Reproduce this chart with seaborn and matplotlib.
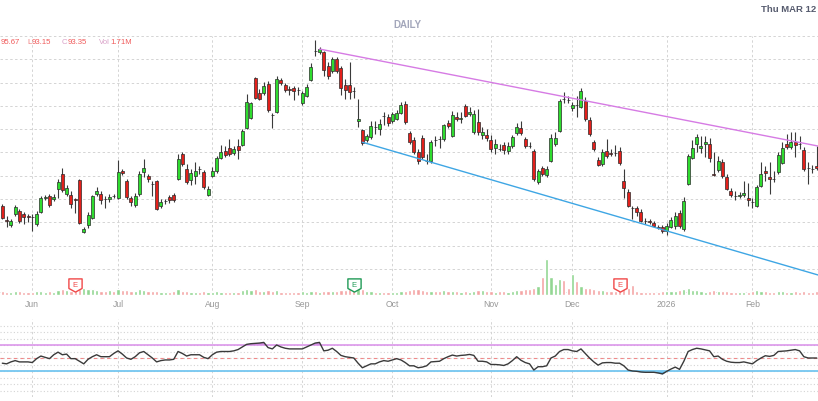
import numpy as np
import matplotlib
matplotlib.use("Agg")
import matplotlib.pyplot as plt
import matplotlib.transforms as mtransforms
from matplotlib.path import Path
import seaborn as sns

# daily candles (price units)
opens = [
    89.26, 87.76, 87.22, 88.40, 88.72, 88.40, 88.19, 88.08, 87.33, 88.61,
    90.12, 90.33, 90.01, 91.08, 92.70, 90.55, 90.44, 90.01, 92.05, 86.47,
    87.22, 87.97, 90.55, 90.55, 90.01, 90.01, 90.33, 90.12, 93.02, 91.94,
    90.12, 89.37, 90.55, 92.91, 92.48, 91.62, 91.94, 89.26, 89.80, 90.23,
    90.44, 92.16, 94.84, 93.23, 92.05, 92.48, 93.23, 92.91, 90.44, 92.48,
    93.02, 94.41, 95.16, 95.48, 94.95, 95.70, 95.80, 97.63, 98.70, 102.99,
    101.38, 101.38, 102.35, 99.05, 99.37, 102.78, 102.24, 101.81, 101.92, 101.71,
    100.31, 101.06, 102.78, 105.89, 105.78, 105.78, 104.28, 103.74, 105.03, 104.07,
    102.24, 102.24, 101.60, 98.38, 97.41, 96.34, 96.66, 97.74, 97.52, 98.92,
    98.81, 98.38, 98.59, 99.24, 100.20, 97.09, 96.34, 95.05, 96.56, 94.09,
    94.09, 96.34, 96.45, 96.45, 98.17, 96.77, 98.81, 98.59, 99.99, 99.13,
    97.20, 98.27, 96.88, 96.88, 96.34, 95.48, 95.37, 95.80, 95.16, 95.70,
    97.09, 97.63, 96.45, 95.70, 95.16, 91.84, 93.34, 92.59, 94.09, 95.91,
    97.31, 100.74, 100.63, 99.77, 100.10, 99.88, 100.53, 98.49, 96.13, 94.20,
    93.77, 95.16, 94.95, 94.95, 95.16, 91.94, 90.76, 89.04, 89.04, 88.61,
    87.65, 87.65, 87.43, 87.01, 87.01, 86.58, 87.01, 87.11, 88.51, 86.79,
    91.62, 94.41, 95.91, 95.48, 95.91, 95.91, 92.70, 93.12, 93.98, 92.37,
    90.87, 90.33, 90.33, 90.44, 90.12, 89.69, 89.26, 91.41, 93.02, 92.37,
    92.16, 92.91, 93.87, 95.91, 95.59, 96.13, 95.91, 95.27, 93.34, 93.23,
    93.50,
]
highs = [
    89.47, 88.19, 87.86, 89.37, 88.94, 88.61, 88.40, 88.40, 88.72, 90.33,
    90.44, 90.55, 90.55, 92.16, 93.34, 91.52, 90.87, 90.12, 92.16, 87.01,
    88.61, 90.44, 91.30, 90.87, 90.33, 90.55, 90.55, 94.19, 93.23, 92.16,
    90.33, 90.66, 93.02, 94.30, 92.70, 91.94, 92.05, 90.01, 90.01, 90.44,
    90.66, 94.84, 95.05, 93.77, 93.23, 93.98, 93.55, 93.12, 91.41, 93.45,
    94.63, 95.80, 95.70, 96.45, 95.70, 96.45, 97.52, 101.28, 100.42, 103.10,
    101.81, 102.56, 102.67, 99.26, 103.21, 102.99, 102.46, 102.13, 102.13, 102.03,
    101.60, 102.35, 104.60, 107.07, 106.32, 105.89, 104.71, 105.25, 105.25, 104.28,
    102.89, 104.71, 102.03, 100.74, 97.52, 96.98, 98.38, 98.38, 98.59, 99.34,
    99.13, 99.34, 99.55, 100.42, 100.53, 97.31, 96.66, 95.37, 96.88, 94.84,
    96.34, 96.77, 96.77, 98.06, 98.49, 99.45, 99.34, 99.34, 100.20, 99.88,
    99.55, 99.67, 97.74, 97.52, 96.88, 96.45, 95.91, 96.13, 96.13, 96.88,
    98.17, 98.38, 96.66, 96.13, 95.37, 93.23, 93.55, 93.55, 96.98, 97.20,
    100.74, 101.49, 101.06, 100.42, 101.06, 101.92, 100.96, 98.81, 96.34, 94.52,
    95.37, 96.45, 95.37, 95.80, 95.59, 93.23, 91.08, 89.26, 89.26, 88.94,
    87.97, 87.86, 87.65, 87.22, 87.22, 87.43, 88.08, 88.61, 88.83, 90.23,
    94.84, 96.34, 96.98, 96.77, 96.77, 96.56, 95.05, 94.63, 94.30, 92.70,
    91.19, 90.87, 90.76, 91.94, 91.73, 90.12, 91.52, 93.98, 93.55, 93.98,
    93.02, 95.05, 96.13, 96.98, 97.20, 97.20, 96.77, 95.59, 93.98, 93.66,
    95.67,
]
lows = [
    87.86, 87.01, 87.01, 88.19, 87.43, 87.33, 87.54, 86.57, 87.11, 88.51,
    89.90, 89.15, 89.80, 90.12, 90.76, 90.33, 89.04, 88.51, 87.33, 86.36,
    86.90, 87.86, 90.33, 89.47, 89.04, 89.69, 90.12, 90.01, 92.59, 90.01,
    89.26, 89.15, 90.33, 92.37, 91.84, 90.33, 88.83, 89.04, 89.47, 89.58,
    89.69, 92.05, 93.55, 91.62, 91.52, 91.62, 92.70, 91.08, 90.33, 92.37,
    92.80, 94.30, 94.52, 94.63, 94.73, 94.30, 95.70, 97.52, 98.59, 100.74,
    100.63, 101.17, 99.37, 97.66, 99.26, 102.24, 101.49, 101.17, 100.63, 101.17,
    100.10, 100.96, 102.67, 105.35, 105.57, 103.21, 102.89, 103.53, 103.53, 101.17,
    100.74, 100.74, 100.85, 97.74, 95.80, 96.13, 96.45, 96.98, 96.88, 97.95,
    97.84, 98.17, 98.49, 99.13, 98.06, 95.91, 94.84, 93.77, 94.30, 93.77,
    93.87, 95.70, 95.48, 96.23, 97.63, 96.66, 98.38, 98.17, 98.81, 98.92,
    96.98, 96.88, 96.45, 96.23, 95.05, 94.84, 95.16, 94.84, 94.84, 95.48,
    96.88, 96.88, 95.48, 95.48, 91.94, 91.62, 92.48, 92.37, 93.98, 95.70,
    97.20, 100.31, 100.31, 99.45, 98.81, 99.77, 98.38, 96.77, 95.16, 93.55,
    93.55, 94.41, 94.63, 94.63, 93.66, 90.12, 89.15, 87.86, 88.19, 87.54,
    87.33, 87.33, 87.01, 86.79, 86.36, 86.15, 86.90, 86.79, 86.90, 86.57,
    91.52, 94.30, 95.05, 94.95, 94.52, 93.98, 92.48, 92.91, 92.27, 90.98,
    90.23, 89.90, 90.12, 90.23, 89.26, 89.04, 89.15, 91.30, 91.94, 90.55,
    91.84, 92.70, 93.77, 95.37, 95.37, 94.52, 95.37, 93.02, 91.62, 92.80,
    93.15,
]
closes = [
    87.97, 87.65, 87.65, 89.15, 87.65, 88.08, 88.08, 88.05, 88.40, 90.12,
    90.23, 89.37, 90.23, 91.84, 90.98, 91.19, 89.47, 89.90, 87.43, 86.79,
    88.29, 90.33, 90.87, 89.90, 89.96, 90.23, 90.30, 92.91, 92.80, 90.23,
    89.69, 90.33, 92.70, 93.34, 92.16, 91.58, 88.94, 89.69, 89.83, 89.90,
    89.90, 94.30, 93.77, 91.84, 92.80, 93.02, 93.20, 91.30, 91.08, 93.02,
    94.41, 95.05, 94.73, 94.84, 95.37, 95.27, 97.31, 100.42, 100.31, 100.85,
    100.74, 102.13, 99.59, 99.02, 102.89, 102.46, 101.71, 101.71, 101.60, 101.68,
    101.38, 102.03, 104.17, 105.86, 106.10, 103.85, 103.21, 105.03, 103.74, 101.92,
    101.71, 101.49, 101.57, 98.59, 96.02, 96.77, 97.84, 97.71, 98.06, 98.89,
    98.17, 99.13, 99.24, 100.10, 98.27, 96.13, 95.05, 94.09, 94.52, 94.06,
    96.13, 96.31, 96.42, 97.95, 97.84, 99.02, 98.59, 98.70, 98.92, 99.34,
    99.13, 97.20, 97.20, 96.56, 95.37, 95.91, 95.34, 95.27, 95.70, 96.66,
    97.74, 97.09, 95.70, 95.67, 92.16, 93.02, 92.70, 93.23, 96.56, 96.56,
    100.53, 100.71, 100.60, 100.10, 100.07, 101.60, 98.59, 96.98, 95.37, 93.66,
    95.05, 94.63, 94.84, 94.92, 93.87, 91.19, 89.26, 89.01, 88.61, 87.65,
    87.62, 87.54, 87.11, 86.90, 86.58, 87.11, 87.76, 88.19, 87.11, 89.80,
    94.63, 95.48, 96.66, 95.70, 96.13, 94.41, 92.59, 94.09, 92.48, 91.08,
    90.44, 90.30, 90.44, 90.66, 89.90, 89.66, 91.30, 92.70, 92.80, 92.16,
    92.13, 94.73, 95.48, 95.59, 96.13, 95.80, 95.88, 93.23, 93.31, 93.20,
    93.35,
]
# volume in millions
volumes = [
    1.8, 1.3, 1.4, 1.9, 1.8, 1.3, 1.4, 1.3, 1.8, 1.9,
    1.4, 1.8, 1.3, 2.3, 2.7, 2.3, 1.8, 1.9, 2.7, 3.1,
    2.7, 2.7, 2.3, 1.9, 1.8, 2.3, 1.9, 2.7, 2.3, 2.3,
    1.8, 1.9, 2.7, 2.3, 1.8, 1.9, 1.8, 1.3, 1.4, 1.3,
    1.8, 2.7, 1.9, 1.8, 1.3, 1.4, 1.3, 1.8, 1.4, 1.3,
    1.9, 1.4, 1.3, 1.4, 1.3, 1.4, 2.3, 2.7, 2.3, 2.7,
    1.9, 1.8, 2.3, 1.9, 2.3, 1.3, 1.4, 1.3, 1.4, 1.3,
    1.8, 1.4, 1.9, 1.8, 1.3, 1.9, 1.8, 1.9, 1.8, 2.3,
    2.3, 2.7, 2.3, 3.1, 2.7, 1.9, 1.8, 1.3, 1.4, 1.3,
    1.4, 1.3, 1.4, 1.8, 1.9, 2.3, 2.7, 2.7, 2.3, 1.9,
    1.8, 1.9, 1.8, 2.3, 1.9, 1.8, 1.9, 1.3, 1.8, 1.4,
    1.9, 2.3, 2.3, 1.9, 1.8, 1.3, 1.9, 1.8, 1.4, 1.9,
    2.3, 2.3, 2.7, 2.7, 3.1, 4.1, 8.1, 15.8, 8.1, 5.0,
    7.2, 6.8, 3.1, 9.4, 6.3, 4.1, 3.1, 3.1, 2.7, 2.3,
    2.3, 1.9, 1.8, 1.9, 2.3, 2.7, 3.1, 4.5, 1.9, 1.3,
    1.4, 1.3, 1.4, 1.3, 1.8, 1.9, 1.8, 1.9, 2.3, 2.7,
    3.1, 2.3, 2.3, 1.9, 1.3, 1.8, 2.3, 1.9, 1.8, 1.9,
    1.4, 1.3, 1.4, 1.3, 1.4, 1.8, 2.3, 1.9, 1.8, 1.3,
    1.4, 1.8, 1.9, 1.3, 1.4, 1.8, 1.3, 1.9, 1.4, 1.3,
    1.71,
]
# oscillator (0-100) under the chart
rsi = [
    42, 41, 44, 46, 44, 44, 44, 43, 49, 53,
    51, 49, 55, 59, 55, 56, 49, 49, 45, 41,
    48, 52, 55, 52, 52, 52, 57, 61, 56, 50,
    48, 52, 58, 60, 55, 50, 44, 46, 47, 47,
    48, 60, 57, 53, 55, 55, 55, 51, 49, 55,
    59, 60, 60, 60, 61, 63, 67, 71, 72, 72.5,
    73, 74, 66, 64, 70, 67, 65, 64, 64, 64,
    64, 67, 70, 73, 74, 61, 62, 65, 60, 54,
    52, 51, 50, 42, 35, 38, 41, 41, 44, 46,
    45, 47, 49, 47, 43, 38, 38, 35, 36, 38,
    44, 44.5, 45, 49, 52, 54.5, 53, 54, 54.5, 55.5,
    54, 45, 45, 44, 40, 40, 39.5, 38.5, 41, 46,
    52, 46.5, 43, 41, 31.5, 36.6, 36.6, 38, 50, 53,
    60, 63, 63, 61, 60, 64, 57, 50, 44, 39,
    42.5, 43, 43, 42, 42, 38, 31.5, 30, 29.5, 28.5,
    28, 28, 28, 27, 25.5, 29.5, 33, 36, 32.5, 45,
    60, 63, 65, 64, 62.5, 61, 52, 53, 48, 45,
    43.5, 43, 43, 44, 42.5, 41, 46, 50, 53.5, 52.5,
    54, 60, 60.5, 61, 62, 63, 61, 52, 50, 50,
    50,
]

month_idx = [7, 27, 49, 70, 91, 114, 133, 155, 175]
month_labels = ["Jun", "Jul", "Aug", "Sep", "Oct", "Nov", "Dec", "2026", "Feb"]

# trend channel anchors (bar index, price)
upper_x = [74, 190.3]
upper_y = [106.10, 95.69]
lower_x = [84, 190.3]
lower_y = [96.10, 81.85]

earn_idx = [17, 82, 144]
earn_colors = ["#f04848", "#1f9a55", "#f04848"]

sns.set_theme(style="white")
plt.rcParams['font.family'] = ['Liberation Sans', 'DejaVu Sans']

o = np.array(opens)
h = np.array(highs)
l = np.array(lows)
c = np.array(closes)
v = np.array(volumes)
idx = np.arange(len(c))
up = c >= o

W, H = 818, 402
fig = plt.figure(figsize=(W / 100, H / 100), dpi=100)
ax = fig.add_axes([0, 1 - 296 / H, 1, 259 / H])
ax_vol = ax.twinx()
ax_rsi = fig.add_axes([0, 4 / H, 1, 78 / H])

xlim = (-0.54, 190.3)
grid_kw = dict(color="#d4d4d4", lw=0.7, ls=(0, (2.5, 2.5)))

# price panel
ax.set_xlim(*xlim)
ax.set_ylim(79.7, 107.5)
ax.set_yticks(np.arange(80, 108, 2.5))
ax.set_xticks(month_idx)
ax.set_xticklabels(month_labels)
ax.grid(True, **grid_kw)
ax.tick_params(axis="y", left=False, right=False, labelleft=False)
ax.tick_params(axis="x", length=0, labelsize=6.2, colors="#979797", pad=3)
for s in ax.spines.values():
    s.set_visible(False)

ax.vlines(idx, l, h, color="#3a3a3a", lw=0.8, zorder=3)
body_bottom = np.minimum(o, c)
body_height = np.abs(c - o)
ax.bar(idx, body_height, bottom=body_bottom, width=0.7,
       color=np.where(up, "#2fdc2f", "#e3201b"),
       edgecolor="#2a2a2a", linewidth=0.5, zorder=4)

sns.lineplot(x=upper_x, y=upper_y, ax=ax, color="#d67be4", lw=1.0, zorder=5)
sns.lineplot(x=lower_x, y=lower_y, ax=ax, color="#3ea6e4", lw=1.0, zorder=5)
ax.set_xlabel("")
ax.set_ylabel("")

# volume overlay
ax_vol.set_ylim(0, 114)
ax_vol.bar(idx, v, width=0.75, color=np.where(up, "#92d692", "#f4a5a5"), zorder=1)
ax_vol.set_yticks([])
ax_vol.grid(False)
for s in ax_vol.spines.values():
    s.set_visible(False)

# earnings markers
shield = Path([(-1, 1), (1, 1), (1, -0.45), (0, -1), (-1, -0.45), (-1, 1)],
              [Path.MOVETO, Path.LINETO, Path.LINETO, Path.LINETO, Path.LINETO, Path.CLOSEPOLY])
trans = mtransforms.blended_transform_factory(ax_vol.transData, ax_vol.transAxes)
for xi, col in zip(earn_idx, earn_colors):
    ax_vol.plot(xi, 0.038, marker=shield, ms=9.5, mfc="white", mec=col, mew=1.0,
                transform=trans, clip_on=False, zorder=6)
    ax_vol.text(xi, 0.042, "E", transform=trans, ha="center", va="center",
                fontsize=5.5, color=col, zorder=7)

# oscillator panel
ax_rsi.set_xlim(*xlim)
ax_rsi.set_ylim(-10, 110)
ax_rsi.set_yticks(np.arange(0, 101, 10))
ax_rsi.set_xticks(month_idx)
ax_rsi.grid(True, axis="y", color="#d4d4d4", lw=0.8, ls=(0, (1, 2)))
ax_rsi.grid(True, axis="x", **grid_kw)
ax_rsi.tick_params(left=False, bottom=False, labelleft=False, labelbottom=False)
for s in ax_rsi.spines.values():
    s.set_visible(False)

r = np.array(rsi, dtype=float)
ax_rsi.fill_between(idx, 70, r, where=r > 70, interpolate=True, color="#c27ad4", alpha=0.85, lw=0)
ax_rsi.fill_between(idx, 30, r, where=r < 30, interpolate=True, color="#3ea6e4", alpha=0.85, lw=0)
ax_rsi.axhline(70, color="#d98ee9", lw=1.1)
ax_rsi.axhline(50, color="#f08a8a", lw=0.8, ls=(0, (3, 3)))
ax_rsi.axhline(30, color="#74c6f0", lw=1.3)
sns.lineplot(x=idx, y=r, ax=ax_rsi, color="#3a3a3a", lw=1.0, zorder=5)
ax_rsi.set_xlabel("")
ax_rsi.set_ylabel("")

# header texts
def ftxt(x, y, s, **kw):
    fig.text(x / W, 1 - y / H, s, va="center", **kw)

ftxt(816, 10, "Thu MAR 12", ha="right", fontsize=6.8, fontweight="bold", color="#565b6e")
ftxt(407, 25, "DAILY", ha="center", fontsize=7, fontweight="bold", color="#a3a7bb")
hdr = dict(fontsize=5.6)
ftxt(0.5, 42, "95.67", color="#f05a5a", **hdr)
ftxt(27, 42, "L", color="#f07a7a", **hdr)
ftxt(31.5, 42, "93.15", color="#f05a5a", **hdr)
ftxt(62, 42, "C", color="#d9a0c8", **hdr)
ftxt(67.5, 42, "93.35", color="#f05a5a", **hdr)
ftxt(99, 42, "Vol", color="#d9a0c8", **hdr)
ftxt(110, 42, "1.71M", color="#f05a5a", **hdr)

fig.savefig("out.png", dpi=100, facecolor="white")
